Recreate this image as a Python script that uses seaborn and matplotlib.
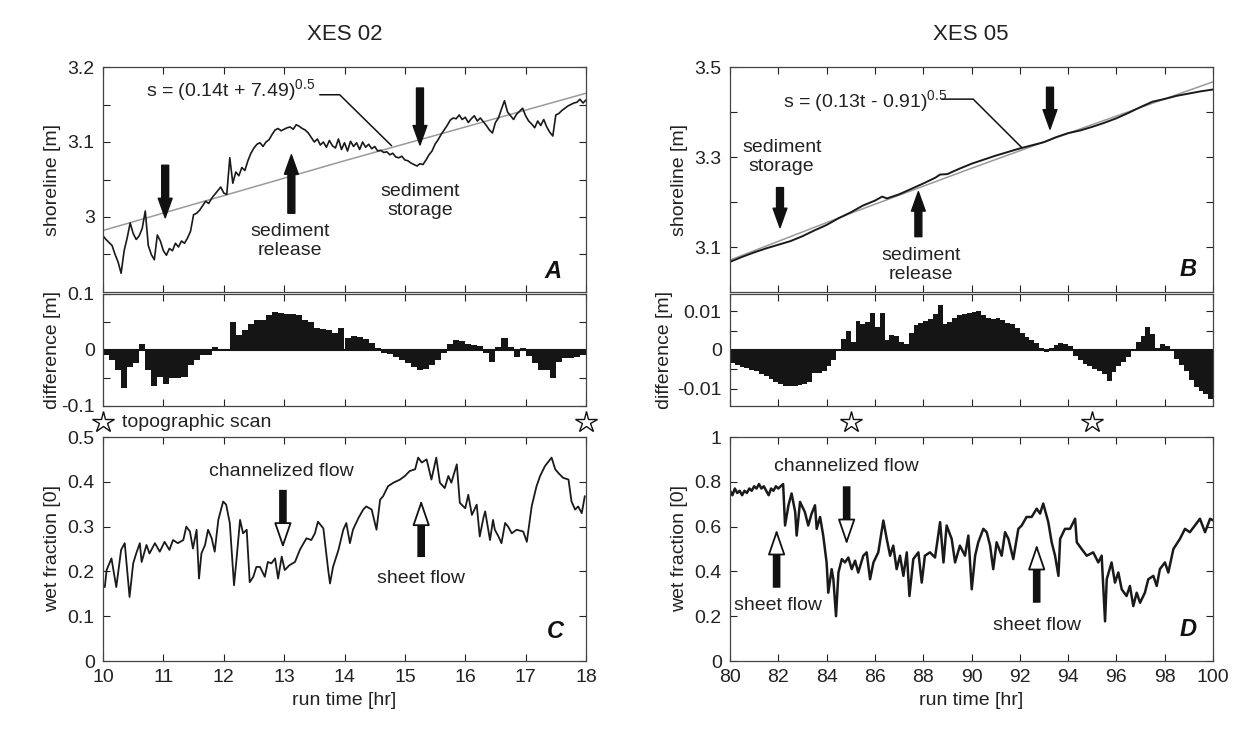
import numpy as np
import matplotlib
matplotlib.use('Agg')
import matplotlib.pyplot as plt
import seaborn as sns
from matplotlib import transforms

# ---------------- data ----------------
# XES 02 shoreline (every 0.05 hr from 10 to 18)
shoreline_02 = [
    2.975, 2.970, 2.966, 2.962, 2.950, 2.940, 2.925, 2.955, 2.972, 2.992,
    2.978, 2.970, 2.975, 2.985, 3.008, 2.962, 2.950, 2.943, 2.976, 2.968,
    2.955, 2.949, 2.958, 2.955, 2.965, 2.960, 2.968, 2.965, 2.972, 2.981,
    3.003, 3.005, 3.009, 3.015, 3.021, 3.018, 3.025, 3.030, 3.035, 3.040,
    3.032, 3.030, 3.079, 3.045, 3.060, 3.055, 3.066, 3.062, 3.075, 3.085,
    3.092, 3.097, 3.099, 3.094, 3.100, 3.103, 3.110, 3.116, 3.118, 3.115,
    3.117, 3.119, 3.120, 3.117, 3.123, 3.121, 3.118, 3.116, 3.112, 3.106,
    3.100, 3.104, 3.096, 3.100, 3.093, 3.102, 3.095, 3.092, 3.104, 3.090,
    3.099, 3.088, 3.101, 3.094, 3.099, 3.090, 3.100, 3.093, 3.097, 3.091,
    3.094, 3.088, 3.089, 3.086, 3.087, 3.083, 3.085, 3.080, 3.079, 3.081,
    3.076, 3.075, 3.072, 3.070, 3.068, 3.071, 3.070, 3.076, 3.083, 3.088,
    3.097, 3.103, 3.110, 3.116, 3.122, 3.129, 3.132, 3.131, 3.136, 3.130,
    3.133, 3.126, 3.131, 3.135, 3.128, 3.132, 3.127, 3.122, 3.116, 3.112,
    3.126, 3.132, 3.144, 3.155, 3.140, 3.135, 3.130, 3.137, 3.141, 3.145,
    3.135, 3.128, 3.124, 3.119, 3.128, 3.122, 3.130, 3.120, 3.113, 3.108,
    3.136, 3.138, 3.142, 3.145, 3.148, 3.150, 3.152, 3.153, 3.157, 3.152,
    3.156]
time_02 = np.round(10 + 0.05 * np.arange(len(shoreline_02)), 2)

fit_time_02 = [10, 14, 18]
fit_02 = [2.982, 3.075, 3.165]

# XES 02 difference (0.1 hr bins)
diff_02 = [
    -0.009, -0.018, -0.035, -0.068, -0.030, -0.024, 0.010, -0.036, -0.065, -0.048,
    -0.060, -0.050, -0.050, -0.048, -0.027, -0.018, -0.009, -0.009, 0.006, 0.002,
    -0.002, 0.050, 0.027, 0.036, 0.046, 0.054, 0.054, 0.062, 0.067, 0.066,
    0.065, 0.065, 0.062, 0.054, 0.050, 0.039, 0.038, 0.036, 0.030, 0.039,
    0.021, 0.025, 0.024, 0.020, 0.012, 0.003, -0.005, -0.007, -0.012, -0.018,
    -0.024, -0.030, -0.035, -0.034, -0.026, -0.018, -0.005, 0.010, 0.018, 0.016,
    0.011, 0.009, 0.007, -0.005, -0.021, 0.006, 0.021, 0.006, -0.012, 0.003,
    -0.010, -0.024, -0.036, -0.036, -0.050, -0.021, -0.015, -0.015, -0.012, -0.009]
diff_time_02 = np.round(10.05 + 0.1 * np.arange(len(diff_02)), 2)

# XES 02 wet fraction
wet_time_02 = [
    10.03, 10.06, 10.14, 10.22, 10.30, 10.36, 10.44, 10.50, 10.55, 10.61,
    10.64, 10.72, 10.77, 10.86, 10.94, 11.02, 11.10, 11.16, 11.24, 11.33,
    11.38, 11.44, 11.49, 11.55, 11.59, 11.63, 11.69, 11.74, 11.80, 11.85,
    11.91, 11.99, 12.04, 12.10, 12.17, 12.21, 12.27, 12.32, 12.38, 12.43,
    12.49, 12.54, 12.60, 12.68, 12.73, 12.79, 12.85, 12.90, 12.96, 13.01,
    13.09, 13.18, 13.26, 13.37, 13.45, 13.51, 13.56, 13.65, 13.73, 13.76,
    13.81, 13.90, 13.98, 14.03, 14.09, 14.14, 14.23, 14.31, 14.36, 14.45,
    14.53, 14.59, 14.64, 14.72, 14.81, 14.92, 15.00, 15.08, 15.17, 15.22,
    15.28, 15.36, 15.44, 15.52, 15.58, 15.66, 15.72, 15.77, 15.86, 15.91,
    16.00, 16.05, 16.11, 16.19, 16.24, 16.30, 16.33, 16.41, 16.46, 16.49,
    16.55, 16.60, 16.66, 16.71, 16.77, 16.85, 16.96, 17.02, 17.10, 17.18,
    17.24, 17.32, 17.43, 17.49, 17.54, 17.62, 17.71, 17.76, 17.82, 17.87,
    17.93, 17.98]
wet_02 = [
    0.165, 0.203, 0.229, 0.165, 0.248, 0.263, 0.143, 0.218, 0.240, 0.263,
    0.221, 0.259, 0.240, 0.263, 0.244, 0.266, 0.248, 0.270, 0.263, 0.270,
    0.300, 0.289, 0.251, 0.293, 0.184, 0.240, 0.259, 0.293, 0.274, 0.244,
    0.315, 0.356, 0.349, 0.308, 0.169, 0.225, 0.315, 0.285, 0.293, 0.176,
    0.188, 0.210, 0.210, 0.188, 0.221, 0.218, 0.229, 0.184, 0.233, 0.203,
    0.214, 0.221, 0.248, 0.274, 0.270, 0.285, 0.311, 0.296, 0.203, 0.173,
    0.210, 0.248, 0.293, 0.308, 0.263, 0.293, 0.319, 0.338, 0.345, 0.338,
    0.293, 0.360, 0.368, 0.390, 0.398, 0.405, 0.413, 0.424, 0.428, 0.454,
    0.443, 0.450, 0.405, 0.454, 0.398, 0.386, 0.413, 0.398, 0.439, 0.353,
    0.341, 0.371, 0.326, 0.349, 0.278, 0.319, 0.334, 0.270, 0.315, 0.293,
    0.278, 0.263, 0.308, 0.300, 0.285, 0.293, 0.289, 0.266, 0.345, 0.390,
    0.413, 0.435, 0.454, 0.428, 0.420, 0.409, 0.405, 0.356, 0.338, 0.345,
    0.330, 0.368]

# XES 05 shoreline
time_05 = [
    80.0, 80.5, 81.0, 81.5, 82.0, 82.5, 83.0, 83.5, 84.0, 84.5,
    85.0, 85.5, 86.0, 86.3, 86.5, 87.0, 87.5, 88.0, 88.5, 88.7,
    89.0, 89.5, 90.0, 90.5, 91.0, 91.5, 92.0, 92.5, 93.0, 93.5,
    94.0, 94.5, 95.0, 95.5, 96.0, 96.5, 97.0, 97.5, 98.0, 98.5,
    99.0, 99.5, 100.0]
shoreline_05 = [
    3.067, 3.078, 3.088, 3.097, 3.105, 3.113, 3.124, 3.137, 3.149, 3.164,
    3.177, 3.192, 3.203, 3.212, 3.208, 3.217, 3.229, 3.241, 3.254, 3.261,
    3.262, 3.274, 3.285, 3.294, 3.303, 3.311, 3.319, 3.326, 3.333, 3.344,
    3.353, 3.359, 3.367, 3.376, 3.386, 3.398, 3.411, 3.423, 3.429, 3.436,
    3.441, 3.446, 3.450]
fit_time_05 = [80, 85, 90, 95, 100]
fit_05 = [3.071, 3.175, 3.275, 3.372, 3.467]

# XES 05 difference (0.2 hr bins)
diff_05 = [
    -0.0034, -0.0039, -0.0043, -0.0047, -0.0051, -0.0055, -0.0061, -0.0068, -0.0076, -0.0084,
    -0.0089, -0.0093, -0.0094, -0.0092, -0.0090, -0.0087, -0.0082, -0.0060, -0.0060, -0.0055,
    -0.0042, -0.0025, 0.0003, 0.0028, 0.0050, 0.0020, 0.0075, 0.0067, 0.0072, 0.0095,
    0.0060, 0.0095, 0.0025, 0.0038, 0.0035, 0.0022, 0.0015, 0.0045, 0.0066, 0.0070,
    0.0074, 0.0080, 0.0093, 0.0117, 0.0067, 0.0072, 0.0082, 0.0090, 0.0094, 0.0095,
    0.0098, 0.0102, 0.0090, 0.0083, 0.0080, 0.0083, 0.0078, 0.0071, 0.0068, 0.0058,
    0.0044, 0.0034, 0.0025, 0.0019, 0.0005, -0.0006, 0.0005, 0.0013, 0.0018, 0.0016,
    0.0010, -0.0016, -0.0027, -0.0035, -0.0041, -0.0048, -0.0054, -0.0062, -0.0080, -0.0058,
    -0.0042, -0.0030, -0.0019, -0.0002, 0.0022, 0.0035, 0.0060, 0.0042, 0.0005, 0.0016,
    0.0010, 0.0000, -0.0024, -0.0038, -0.0055, -0.0077, -0.0097, -0.0106, -0.0115, -0.0127]
diff_time_05 = np.round(80.1 + 0.2 * np.arange(len(diff_05)), 2)

# XES 05 wet fraction
wet_time_05 = [
    80.0, 80.1, 80.2, 80.3, 80.4, 80.5, 80.6, 80.7, 80.8, 80.9,
    81.0, 81.1, 81.2, 81.3, 81.4, 81.5, 81.6, 81.7, 81.8, 81.9,
    82.0, 82.1, 82.2, 82.28, 82.42, 82.55, 82.70, 82.76, 82.90, 83.10,
    83.24, 83.38, 83.52, 83.59, 83.73, 83.86, 84.00, 84.07, 84.21, 84.28,
    84.39, 84.49, 84.63, 84.76, 84.90, 85.04, 85.18, 85.31, 85.52, 85.66,
    85.80, 85.94, 86.14, 86.35, 86.49, 86.63, 86.76, 86.90, 87.04, 87.18,
    87.32, 87.43, 87.59, 87.80, 87.94, 88.07, 88.28, 88.49, 88.70, 88.84,
    88.97, 89.18, 89.32, 89.52, 89.73, 89.87, 90.01, 90.15, 90.28, 90.49,
    90.63, 90.77, 90.90, 91.04, 91.25, 91.39, 91.53, 91.73, 91.94, 92.08,
    92.28, 92.49, 92.70, 92.84, 92.97, 93.18, 93.32, 93.46, 93.60, 93.67,
    93.87, 94.08, 94.29, 94.36, 94.56, 94.77, 95.04, 95.25, 95.39, 95.53,
    95.60, 95.80, 95.94, 96.08, 96.22, 96.42, 96.56, 96.70, 96.84, 96.98,
    97.18, 97.32, 97.53, 97.67, 97.80, 98.01, 98.15, 98.36, 98.63, 98.84,
    99.04, 99.25, 99.46, 99.67, 99.88, 100.0]
wet_05 = [
    0.76, 0.74, 0.77, 0.75, 0.76, 0.74, 0.76, 0.75, 0.77, 0.76,
    0.78, 0.77, 0.79, 0.77, 0.78, 0.76, 0.74, 0.77, 0.76, 0.78,
    0.77, 0.78, 0.79, 0.605, 0.695, 0.748, 0.665, 0.56, 0.71, 0.665,
    0.605, 0.658, 0.695, 0.59, 0.643, 0.56, 0.44, 0.305, 0.41, 0.365,
    0.20, 0.395, 0.455, 0.44, 0.462, 0.41, 0.448, 0.395, 0.47, 0.485,
    0.365, 0.44, 0.485, 0.627, 0.545, 0.47, 0.515, 0.41, 0.47, 0.38,
    0.485, 0.29, 0.455, 0.485, 0.35, 0.47, 0.485, 0.462, 0.62, 0.44,
    0.605, 0.545, 0.44, 0.515, 0.47, 0.56, 0.32, 0.47, 0.53, 0.59,
    0.575, 0.515, 0.41, 0.53, 0.47, 0.575, 0.545, 0.455, 0.59, 0.605,
    0.643, 0.643, 0.68, 0.658, 0.703, 0.62, 0.53, 0.47, 0.38, 0.545,
    0.59, 0.59, 0.635, 0.53, 0.50, 0.47, 0.485, 0.44, 0.47, 0.177,
    0.365, 0.44, 0.35, 0.395, 0.32, 0.29, 0.335, 0.245, 0.305, 0.26,
    0.305, 0.365, 0.38, 0.335, 0.41, 0.44, 0.395, 0.50, 0.545, 0.59,
    0.575, 0.605, 0.635, 0.575, 0.635, 0.628]

scans_02 = [10, 18]
scans_05 = [85, 95]

# ---------------- style ----------------
sns.set_style('ticks')
plt.rcParams['font.family'] = ['Liberation Sans', 'DejaVu Sans']
plt.rcParams['mathtext.fontset'] = 'custom'
plt.rcParams['mathtext.rm'] = 'Liberation Sans'
plt.rcParams['mathtext.it'] = 'Liberation Sans:italic'
plt.rcParams['mathtext.bf'] = 'Liberation Sans:bold'
plt.rcParams['mathtext.default'] = 'regular'

TXT = '#222222'
FS = 14

fig = plt.figure(figsize=(12.36, 7.32), dpi=100)
fig.patch.set_facecolor('white')

W = 483 / 1236
X0L, X0R = 103 / 1236, 730 / 1236
def fy(px):
    return 1 - px / 732

rows = [(67, 292), (294, 406), (437, 661)]
axes = {}
for ci, x0 in enumerate([X0L, X0R]):
    for ri, (t, b) in enumerate(rows):
        ax = fig.add_axes([x0, fy(b), W, fy(t) - fy(b)])
        axes[(ri, ci)] = ax

def style(ax, show_x=False):
    ax.tick_params(direction='in', top=True, right=True, length=5, width=0.8,
                   labelsize=FS, colors=TXT, pad=6)
    for s in ax.spines.values():
        s.set_color('#444444')
        s.set_linewidth(0.9)
    if not show_x:
        ax.tick_params(labelbottom=False)
    ax.set_facecolor('white')

# ---------- XES 02 ----------
axA = axes[(0, 0)]
sns.lineplot(x=fit_time_02, y=fit_02, ax=axA, color='#9a9a9a', lw=1.1)
sns.lineplot(x=time_02, y=shoreline_02, ax=axA, color='#1a1a1a', lw=1.2,
             estimator=None, sort=False)
axA.set_xlim(10, 18); axA.set_ylim(2.9, 3.2)
axA.set_xticks(range(10, 19))
axA.set_yticks([2.95, 3.0, 3.05, 3.1, 3.15, 3.2])
axA.set_yticklabels(['', '3', '', '3.1', '', '3.2'])
axA.set_ylabel('shoreline [m]', fontsize=FS, color=TXT)
style(axA)

axDA = axes[(1, 0)]
axDA.bar(diff_time_02, diff_02, width=0.1, color='#151515', linewidth=0)
axDA.axhline(0, color='#151515', lw=1.5)
axDA.set_xlim(10, 18); axDA.set_ylim(-0.1, 0.1)
axDA.set_xticks(range(10, 19))
axDA.set_yticks([-0.1, -0.05, 0, 0.05, 0.1])
axDA.set_yticklabels(['-0.1', '', '0', '', '0.1'])
axDA.set_ylabel('difference [m]', fontsize=FS, color=TXT)
style(axDA)

axC = axes[(2, 0)]
sns.lineplot(x=wet_time_02, y=wet_02, ax=axC, color='#1a1a1a', lw=1.3,
             estimator=None, sort=False)
axC.set_xlim(10, 18); axC.set_ylim(0, 0.5)
axC.set_xticks(range(10, 19))
axC.set_yticks([0, 0.1, 0.2, 0.3, 0.4, 0.5])
axC.set_yticklabels(['0', '0.1', '0.2', '0.3', '0.4', '0.5'])
axC.set_ylabel('wet fraction [0]', fontsize=FS, color=TXT)
axC.set_xlabel('run time [hr]', fontsize=FS, color=TXT)
style(axC, show_x=True)

# ---------- XES 05 ----------
axB = axes[(0, 1)]
sns.lineplot(x=fit_time_05, y=fit_05, ax=axB, color='#9a9a9a', lw=1.1)
sns.lineplot(x=time_05, y=shoreline_05, ax=axB, color='#1a1a1a', lw=1.4,
             estimator=None, sort=False)
axB.set_xlim(80, 100); axB.set_ylim(3.0, 3.5)
axB.set_xticks(range(80, 101, 2))
axB.set_yticks([3.1, 3.2, 3.3, 3.4, 3.5])
axB.set_yticklabels(['3.1', '', '3.3', '', '3.5'])
axB.set_ylabel('shoreline [m]', fontsize=FS, color=TXT)
style(axB)

axDB = axes[(1, 1)]
axDB.bar(diff_time_05, diff_05, width=0.2, color='#151515', linewidth=0)
axDB.axhline(0, color='#151515', lw=1.5)
axDB.set_xlim(80, 100); axDB.set_ylim(-0.0145, 0.0145)
axDB.set_xticks(range(80, 101, 2))
axDB.set_yticks([-0.01, -0.005, 0, 0.005, 0.01])
axDB.set_yticklabels(['-0.01', '', '0', '', '0.01'])
axDB.set_ylabel('difference [m]', fontsize=FS, color=TXT)
style(axDB)

axD = axes[(2, 1)]
sns.lineplot(x=wet_time_05, y=wet_05, ax=axD, color='#1a1a1a', lw=1.8,
             estimator=None, sort=False)
axD.set_xlim(80, 100); axD.set_ylim(0, 1)
axD.set_xticks(range(80, 101, 2))
axD.set_yticks([0, 0.2, 0.4, 0.6, 0.8, 1.0])
axD.set_yticklabels(['0', '0.2', '0.4', '0.6', '0.8', '1'])
axD.set_ylabel('wet fraction [0]', fontsize=FS, color=TXT)
axD.set_xlabel('run time [hr]', fontsize=FS, color=TXT)
style(axD, show_x=True)

for (ri, ci), ax in axes.items():
    if ci == 1 and ri == 1:
        ax.yaxis.set_label_coords(-0.118, 0.5)
    else:
        ax.yaxis.set_label_coords(-0.087, 0.5)

# ---------- annotations ----------
def solid_arrow(ax, x, y_tail, y_tip):
    ax.annotate('', xy=(x, y_tip), xytext=(x, y_tail),
                arrowprops=dict(arrowstyle='simple,head_width=1.0,head_length=1.4,tail_width=0.5',
                                mutation_scale=10, fc='#111111', ec='#111111',
                                shrinkA=0, shrinkB=0))

def hollow_arrow(ax, x, y_tail, y_tip):
    down = y_tip < y_tail
    ax.annotate('', xy=(x, y_tip), xytext=(x, y_tail),
                arrowprops=dict(arrowstyle='-', lw=5.5, color='#111111',
                                shrinkA=0, shrinkB=14, capstyle='butt'))
    ax.annotate('', xy=(x, y_tip), xytext=(0, 16 if down else -16),
                textcoords='offset points',
                arrowprops=dict(arrowstyle='-|>,head_length=1.6,head_width=0.55',
                                mutation_scale=10, fc='white', ec='#111111', lw=1.3,
                                shrinkA=0, shrinkB=0))

def letter(ax, x, y, s):
    ax.text(x, y, s, transform=ax.transAxes, ha='center', va='center',
            fontsize=17, fontweight='bold', fontstyle='italic', color='#111111')

# Panel A
axA.text(10.72, 3.169, r's = (0.14t + 7.49)$^{0.5}$', fontsize=FS, color=TXT,
         ha='left', va='center')
axA.plot([13.59, 13.92, 14.78], [3.163, 3.163, 3.095], color='#111111', lw=1.1)
solid_arrow(axA, 11.03, 3.069, 2.999)
solid_arrow(axA, 13.12, 3.005, 3.083)
solid_arrow(axA, 15.25, 3.172, 3.096)
axA.text(13.1, 2.968, 'sediment\nrelease', fontsize=FS, color=TXT, ha='center',
         va='center', linespacing=1.15)
axA.text(15.25, 3.021, 'sediment\nstorage', fontsize=FS, color=TXT, ha='center',
         va='center', linespacing=1.15)
letter(axA, 0.932, 0.09, 'A')

# Panel B
axB.text(82.2, 3.424, r's = (0.13t - 0.91)$^{0.5}$', fontsize=FS, color=TXT,
         ha='left', va='center')
axB.plot([88.77, 90.07, 92.08], [3.4286, 3.4286, 3.321], color='#111111', lw=1.1)
solid_arrow(axB, 93.25, 3.455, 3.362)
solid_arrow(axB, 82.07, 3.232, 3.143)
solid_arrow(axB, 87.8, 3.123, 3.223)
axB.text(82.14, 3.299, 'sediment\nstorage', fontsize=FS, color=TXT, ha='center',
         va='center', linespacing=1.15)
axB.text(87.9, 3.06, 'sediment\nrelease', fontsize=FS, color=TXT, ha='center',
         va='center', linespacing=1.15)
letter(axB, 0.948, 0.098, 'B')

# Panel C
axC.text(12.96, 0.422, 'channelized flow', fontsize=FS, color=TXT, ha='center', va='center')
hollow_arrow(axC, 12.98, 0.382, 0.252)
hollow_arrow(axC, 15.27, 0.232, 0.359)
axC.text(15.27, 0.185, 'sheet flow', fontsize=FS, color=TXT, ha='center', va='center')
letter(axC, 0.936, 0.13, 'C')

# Panel D
axD.text(84.83, 0.87, 'channelized flow', fontsize=FS, color=TXT, ha='center', va='center')
hollow_arrow(axD, 84.83, 0.78, 0.52)
hollow_arrow(axD, 81.93, 0.327, 0.587)
axD.text(82.0, 0.25, 'sheet flow', fontsize=FS, color=TXT, ha='center', va='center')
hollow_arrow(axD, 92.7, 0.26, 0.52)
axD.text(92.7, 0.16, 'sheet flow', fontsize=FS, color=TXT, ha='center', va='center')
letter(axD, 0.948, 0.14, 'D')

# topographic scan stars
for ax, scans in [(axDA, scans_02), (axDB, scans_05)]:
    tr = transforms.blended_transform_factory(ax.transData, ax.transAxes)
    ax.plot(scans, [-0.143] * len(scans), transform=tr, marker='*', ms=16,
            mfc='white', mec='#111111', mew=1.0, ls='none', clip_on=False)
axDA.text(0.039, -0.143, 'topographic scan', transform=axDA.transAxes,
          fontsize=FS, color=TXT, ha='left', va='center')

# titles
fig.text(345 / 1236, fy(35), 'XES 02', ha='center', va='center', fontsize=16, color=TXT)
fig.text(971 / 1236, fy(35), 'XES 05', ha='center', va='center', fontsize=16, color=TXT)

fig.savefig('out.png', dpi=100, facecolor='white')
